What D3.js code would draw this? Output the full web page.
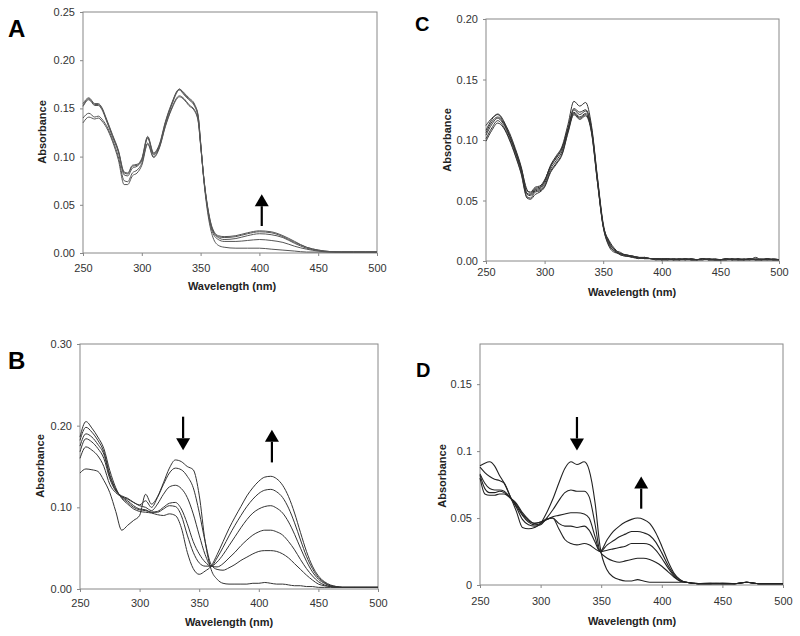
<!DOCTYPE html>
<html>
<head>
<meta charset="utf-8">
<script src="https://cdn.jsdelivr.net/npm/d3@7/dist/d3.min.js"></script>
<style>
  html, body { margin: 0; padding: 0; background: #fff; }
  svg { display: block; }
  text { font-family: "Liberation Sans", Arial, sans-serif; }
</style>
</head>
<body>
<svg id="chart" width="800" height="636"></svg>
<script>
// ---------------- DATA ----------------
const xTicks = [250, 300, 350, 400, 450, 500];
const yTicksA = [0, 0.05, 0.10, 0.15, 0.20, 0.25];
const yTicksB = [0, 0.10, 0.20, 0.30];
const yTicksC = [0, 0.05, 0.10, 0.15, 0.20];
const yTicksD = [0, 0.05, 0.1, 0.15];
const panelLetters = ["A", "B", "C", "D"];
const xTitle = "Wavelength (nm)";
const yTitle = "Absorbance";

// Panel A
const wlA = [250,255,260,263,266,270,275,280,285,288,292,296,300,305,310,315,320,325,332,336,340,345,348,350,353,356,360,365,370,380,390,400,410,420,430,440,450,460,470,480,490,500];
const absA1 = [.153,.160,.154,.154,.150,.138,.122,.106,.083,.082,.090,.091,.097,.120,.103,.112,.135,.153,.170,.165,.160,.153,.141,.114,.072,.042,.018,.008,.006,.005,.005,.005,.004,.003,.002,.001,.001,.001,.001,.001,.001,.001];
const absA2 = [.155,.161,.155,.155,.151,.139,.123,.107,.084,.083,.091,.092,.098,.121,.104,.113,.136,.154,.170,.166,.161,.154,.142,.115,.074,.045,.022,.014,.012,.012,.013,.014,.013,.011,.007,.004,.002,.001,.001,.001,.001,.001];
const absA3 = [.152,.159,.153,.153,.149,.137,.121,.105,.081,.080,.088,.090,.096,.119,.102,.111,.134,.152,.169,.164,.159,.152,.140,.114,.074,.046,.024,.016,.014,.015,.018,.020,.019,.016,.010,.005,.0025,.0012,.001,.001,.001,.001];
const absA4 = [.140,.145,.141,.142,.139,.132,.118,.100,.075,.074,.083,.086,.093,.114,.100,.110,.132,.149,.163,.160,.154,.148,.137,.112,.074,.047,.025,.017,.016,.017,.020,.022,.021,.017,.011,.006,.003,.0015,.001,.001,.001,.001];
const absA5 = [.135,.141,.139,.140,.137,.130,.116,.097,.071,.071,.080,.083,.091,.113,.099,.109,.131,.148,.162,.159,.153,.147,.136,.112,.075,.048,.026,.018,.017,.018,.021,.023,.022,.018,.012,.006,.003,.0015,.001,.001,.001,.001];

// Panel B
const wlB = [250,255,260,265,270,275,280,285,290,295,300,305,310,315,320,325,330,335,340,345,350,355,360,365,370,375,380,385,390,395,400,405,410,415,420,425,430,435,440,445,450,455,460,465,470,480,490,500];
const absB1 = [.142,.147,.146,.144,.133,.118,.095,.072,.078,.084,.090,.116,.104,.113,.130,.148,.158,.156,.150,.146,.115,.058,.024,.012,.007,.006,.006,.006,.006,.007,.007,.008,.007,.006,.006,.005,.004,.004,.003,.003,.002,.002,.002,.002,.002,.002,.002,.002];
const absB2 = [.160,.174,.170,.163,.150,.128,.118,.113,.110,.106,.103,.108,.100,.112,.128,.142,.148,.146,.138,.124,.094,.058,.030,.024,.023,.026,.030,.035,.039,.043,.046,.047,.047,.046,.043,.038,.031,.024,.017,.011,.006,.004,.003,.002,.002,.002,.002,.002];
const absB3 = [.168,.184,.180,.172,.160,.135,.120,.114,.111,.106,.102,.100,.096,.104,.116,.125,.127,.123,.112,.092,.066,.042,.028,.027,.031,.038,.045,.053,.060,.066,.070,.072,.072,.070,.066,.058,.048,.036,.025,.016,.009,.005,.003,.002,.002,.002,.002,.002];
const absB4 = [.175,.190,.186,.177,.165,.138,.121,.113,.108,.102,.098,.097,.094,.095,.100,.105,.106,.098,.080,.058,.043,.033,.028,.033,.042,.053,.064,.075,.085,.093,.098,.101,.102,.099,.093,.082,.067,.050,.034,.021,.012,.007,.004,.003,.002,.002,.002,.002];
const absB5 = [.182,.198,.192,.182,.168,.140,.122,.112,.106,.100,.097,.096,.094,.094,.098,.102,.101,.090,.066,.045,.032,.028,.028,.038,.051,.065,.078,.090,.101,.110,.117,.121,.122,.119,.112,.099,.081,.060,.040,.025,.014,.008,.004,.003,.002,.002,.002,.002];
const absB6 = [.186,.205,.197,.186,.172,.145,.124,.111,.104,.098,.095,.094,.093,.091,.090,.092,.090,.075,.045,.025,.018,.022,.028,.042,.058,.074,.088,.101,.114,.124,.132,.137,.138,.135,.127,.113,.093,.069,.046,.028,.016,.009,.005,.003,.002,.002,.002,.002];

// Panel C
const wlC = [250,255,260,265,270,275,280,285,288,292,296,300,305,310,315,320,325,330,335,340,345,350,355,360,365,370,375,380,385,390,395,400,405,410,415,420,425,430,435,440,445,450,455,460,465,470,475,480,485,490,495,500];
const absC1 = [.108,.117,.1215,.116,.104,.092,.077,.059,.056,.060,.061,.066,.079,.087,.095,.113,.132,.128,.131,.112,.070,.031,.014,.008,.006,.005,.004,.003,.003,.002,.002,.002,.001,.002,.001,.002,.001,.001,.002,.001,.001,.001,.001,.002,.001,.001,.002,.001,.001,.002,.001,.001];
const absC2 = [.112,.118,.121,.115,.106,.093,.078,.058,.057,.061,.062,.067,.078,.086,.094,.110,.126,.123,.125,.110,.069,.030,.016,.009,.005,.004,.004,.002,.003,.002,.001,.002,.002,.001,.002,.001,.002,.001,.001,.002,.001,.001,.002,.001,.001,.002,.001,.002,.001,.001,.002,.001];
const absC3 = [.106,.115,.119,.114,.104,.091,.076,.056,.055,.059,.060,.066,.078,.085,.093,.109,.125,.121,.124,.109,.068,.029,.012,.007,.006,.005,.003,.003,.002,.002,.002,.001,.002,.001,.001,.002,.001,.001,.002,.001,.001,.001,.002,.001,.001,.001,.002,.001,.001,.002,.001,.001];
const absC4 = [.104,.113,.118,.113,.103,.090,.075,.055,.054,.058,.059,.064,.076,.083,.091,.108,.123,.119,.122,.108,.067,.029,.015,.009,.007,.004,.004,.003,.002,.002,.002,.001,.001,.002,.001,.002,.001,.001,.001,.002,.001,.001,.002,.001,.002,.001,.001,.003,.001,.001,.001];
const absC5 = [.101,.110,.116,.111,.101,.088,.073,.053,.052,.057,.058,.062,.074,.081,.089,.107,.122,.118,.121,.107,.066,.028,.013,.008,.005,.004,.003,.002,.003,.002,.001,.001,.002,.001,.001,.001,.002,.001,.002,.001,.001,.001,.001,.002,.001,.001,.002,.001,.001,.002,.001,.001];
const absC6 = [.099,.108,.114,.110,.100,.087,.072,.052,.051,.055,.057,.061,.073,.080,.088,.106,.121,.117,.120,.106,.066,.029,.017,.010,.006,.005,.004,.003,.002,.002,.002,.001,.001,.001,.002,.001,.001,.001,.002,.001,.002,.001,.001,.001,.002,.001,.001,.001,.002,.001,.001,.001];

// Panel D
const wlD = [250,254,258,262,266,270,275,280,285,290,295,300,305,310,315,320,325,330,336,340,345,349,355,360,365,370,375,380,385,390,395,400,405,410,415,420,430,440,450,460,470,480,490,500];
const absD1 = [.089,.091,.092,.089,.082,.076,.066,.055,.043,.042,.043,.046,.054,.064,.076,.087,.092,.090,.092,.086,.061,.029,.011,.006,.004,.003,.003,.004,.003,.002,.002,.002,.002,.002,.002,.002,.001,.0015,.001,.001,.002,.001,.001,.001];
const absD2 = [.088,.084,.081,.079,.078,.076,.066,.058,.049,.045,.044,.045,.050,.056,.063,.069,.071,.070,.070,.066,.045,.025,.020,.018,.017,.018,.019,.020,.020,.019,.017,.014,.010,.006,.003,.002,.001,.001,.001,.001,.002,.001,.001,.001];
const absD3 = [.083,.076,.072,.071,.071,.070,.065,.059,.052,.047,.045,.046,.049,.051,.052,.053,.054,.054,.053,.050,.036,.025,.026,.027,.028,.029,.031,.031,.031,.030,.026,.020,.013,.007,.003,.002,.001,.001,.0015,.001,.002,.001,.001,.001];
const absD4 = [.082,.072,.069,.069,.070,.069,.065,.060,.053,.048,.046,.047,.049,.050,.046,.044,.044,.043,.044,.041,.032,.025,.030,.033,.036,.038,.040,.040,.039,.037,.032,.024,.015,.008,.004,.002,.001,.001,.001,.001,.002,.001,.001,.001];
const absD5 = [.080,.068,.067,.067,.068,.068,.065,.061,.054,.049,.046,.047,.049,.050,.042,.034,.031,.030,.031,.030,.027,.025,.034,.040,.044,.047,.049,.050,.049,.046,.039,.029,.018,.009,.004,.002,.001,.001,.001,.001,.002,.001,.001,.001];

// Arrow annotations (wavelength, start absorbance, tip absorbance)
const arrowsA = [[402, 0.028, 0.061]];
const arrowsB = [[336.5, 0.211, 0.170], [411, 0.155, 0.195]];
const arrowsC = [];
const arrowsD = [[330, 0.1255, 0.1005], [383, 0.057, 0.081]];

// ---------------- DRAWING ----------------
const svg = d3.select("#chart");

const panels = [
  { letter: panelLetters[0], wl: wlA, series: [absA1, absA2, absA3, absA4, absA5], yTicks: yTicksA, ymax: 0.25,
    left: 83, right: 377, top: 12, bottom: 253, fmt: d3.format(".2f"), arrows: arrowsA,
    letterX: 8, letterY: 37, letterSize: 24, xLabPad: 8, xTitleY: 290, xTitleX: 232, yTitleX: 42, yTitleY: 132,
    stroke: "#555", sw: 1 },
  { letter: panelLetters[1], wl: wlB, series: [absB1, absB2, absB3, absB4, absB5, absB6], yTicks: yTicksB, ymax: 0.30,
    left: 80, right: 378, top: 344, bottom: 589, fmt: d3.format(".2f"), arrows: arrowsB,
    letterX: 8, letterY: 369, letterSize: 24, xLabPad: 7, xTitleY: 626, xTitleX: 229, yTitleX: 40, yTitleY: 466,
    stroke: "#333", sw: 1 },
  { letter: panelLetters[2], wl: wlC, series: [absC1, absC2, absC3, absC4, absC5, absC6], yTicks: yTicksC, ymax: 0.20,
    left: 486, right: 779, top: 19, bottom: 261, fmt: d3.format(".2f"), arrows: arrowsC,
    letterX: 415, letterY: 31, letterSize: 20, xLabPad: 4, xTitleY: 296, xTitleX: 632, yTitleX: 447, yTitleY: 140,
    stroke: "#333", sw: 1 },
  { letter: panelLetters[3], wl: wlD, series: [absD1, absD2, absD3, absD4, absD5], yTicks: yTicksD, ymax: 0.18,
    left: 480, right: 783, top: 344, bottom: 585, fmt: d => (d === 0 ? "0" : String(d)), arrows: arrowsD,
    letterX: 416, letterY: 377, letterSize: 20, xLabPad: 9, xTitleY: 625, xTitleX: 632, yTitleX: 442, yTitleY: 476,
    stroke: "#222", sw: 1.1 }
];

panels.forEach(p => {
  const g = svg.append("g");
  const x = d3.scaleLinear().domain([250, 500]).range([p.left, p.right]);
  const y = d3.scaleLinear().domain([0, p.ymax]).range([p.bottom, p.top]);

  // axes
  const xa = g.append("g").attr("transform", `translate(0,${p.bottom})`)
    .call(d3.axisBottom(x).tickValues(xTicks).tickFormat(d3.format("d")).tickSize(3).tickPadding(p.xLabPad));
  const ya = g.append("g").attr("transform", `translate(${p.left},0)`)
    .call(d3.axisLeft(y).tickValues(p.yTicks).tickFormat(p.fmt).tickSize(3).tickPadding(5));
  [xa, ya].forEach(a => {
    a.select(".domain").remove();
    a.selectAll(".tick line").attr("stroke", "#888");
    a.selectAll(".tick text").attr("fill", "#333").style("font-size", "11px")
      .style("font-family", '"Liberation Sans", Arial, sans-serif');
  });

  // frame
  g.append("rect").attr("x", p.left).attr("y", p.top)
    .attr("width", p.right - p.left).attr("height", p.bottom - p.top)
    .attr("fill", "none").attr("stroke", "#888").attr("stroke-width", 1);

  // curves
  const line = d3.line()
    .x((d, i) => x(p.wl[i]))
    .y(d => y(d))
    .curve(d3.curveMonotoneX);
  g.append("g").selectAll("path").data(p.series).join("path")
    .attr("d", d => line(d))
    .attr("fill", "none").attr("stroke", p.stroke).attr("stroke-width", p.sw)
    .attr("stroke-linejoin", "round");

  // arrows
  p.arrows.forEach(([wl, a0, a1]) => {
    const ax = x(wl), y0 = y(a0), y1 = y(a1);
    const dir = y1 < y0 ? -1 : 1; // -1 = up
    const headH = 12, headW = 7;
    const base = y1 - dir * headH;
    g.append("line").attr("x1", ax).attr("x2", ax).attr("y1", y0).attr("y2", base)
      .attr("stroke", "#000").attr("stroke-width", 2.2);
    g.append("path")
      .attr("d", `M${ax},${y1} L${ax - headW},${base} L${ax + headW},${base} Z`)
      .attr("fill", "#000");
  });

  // titles
  g.append("text").attr("x", p.xTitleX).attr("y", p.xTitleY)
    .attr("text-anchor", "middle").attr("font-weight", "bold").attr("font-size", 11)
    .attr("fill", "#222").text(xTitle);
  g.append("text").attr("transform", `translate(${p.yTitleX},${p.yTitleY}) rotate(-90)`)
    .attr("text-anchor", "middle").attr("dy", "0.35em").attr("font-weight", "bold").attr("font-size", 11)
    .attr("fill", "#222").text(yTitle);

  // panel letter
  g.append("text").attr("x", p.letterX).attr("y", p.letterY)
    .attr("font-weight", "bold").attr("font-size", p.letterSize).attr("fill", "#000")
    .text(p.letter);
});
</script>
</body>
</html>
